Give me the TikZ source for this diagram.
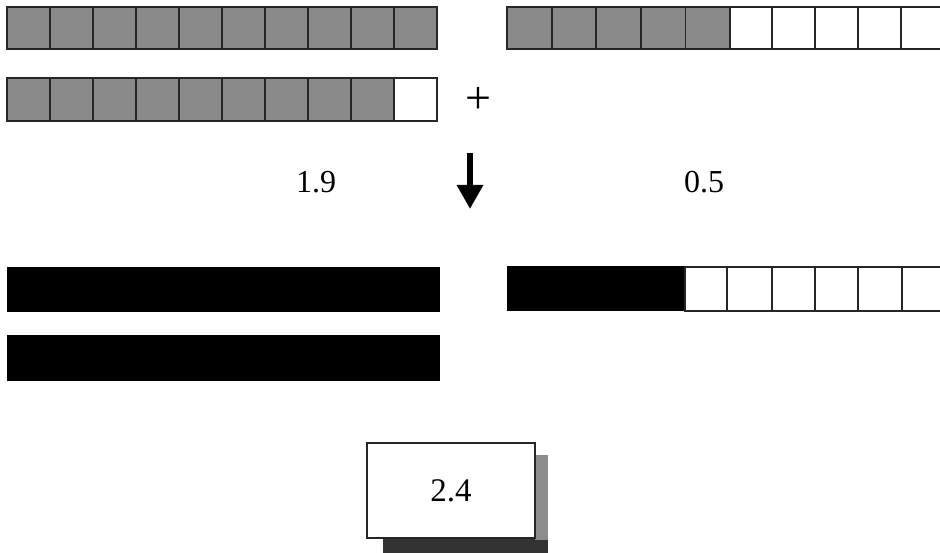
\documentclass[tikz,border=0pt]{standalone}
\usepackage{fontspec}
\setmainfont{Liberation Serif}
\usetikzlibrary{arrows.meta}
\definecolor{cellgray}{RGB}{138,138,138}
\tikzset{
  graycell/.style={fill=cellgray,draw=black!85,line width=1.8pt},
  whitecell/.style={fill=white,draw=black!85,line width=1.6pt},
  blackbar/.style={fill=black,draw=black,line width=1pt},
  numlabel/.style={font=\fontsize{32}{36}\selectfont,inner sep=0pt},
}
\begin{document}
\begin{tikzpicture}[x=1pt,y=-1pt]
\clip (0,0) rectangle (940,553);
\fill[white] (0,0) rectangle (940,553);
% row 1 left: 10 gray cells
\foreach \i in {0,...,9}{
  \draw[graycell] (7+43*\i,7) rectangle (50+43*\i,49);
}
% row 2 left: 9 gray + 1 white
\foreach \i in {0,...,8}{
  \draw[graycell] (7+43*\i,78) rectangle (50+43*\i,121);
}
\draw[whitecell] (394,78) rectangle (437,121);
% row 1 right: 5 gray + white cells
\foreach \i in {0,...,4}{
  \draw[graycell] (507+44.6*\i,7) rectangle (551.6+44.6*\i,49);
}
\foreach \a/\b in {730/772,772/815,815/858,858/901,901/944}{
  \draw[whitecell] (\a,7) rectangle (\b,49);
}
% plus
\node[font=\fontsize{46}{48}\selectfont,inner sep=0pt] (plus) at (478,101) {+};
% labels
\node[numlabel] (a) at (316,182) {1.9};
\node[numlabel] (b) at (704,182) {0.5};
% arrow
\coordinate (arrtop) at (470,153);
\coordinate (arrtip) at (470,209);
\draw[line width=6pt,-{Triangle[width=25pt,length=24pt]}] (arrtop) -- (arrtip);
% black bars left
\draw[blackbar] (7,268) rectangle (439,312);
\draw[blackbar] (7,336) rectangle (439,380);
% right bottom
\draw[blackbar] (507,267) rectangle (685,311);
\foreach \a/\b in {685/727,727/772,772/815,815/858,858/902,902/945}{
  \draw[whitecell] (\a,267) rectangle (\b,311);
}
% result box with shadow
\fill[black!80] (383,460) rectangle (548,560);
\fill[black!45] (535,455) rectangle (548,540);
\node[draw=black!85,line width=1.6pt,fill=white,minimum width=168pt,minimum height=95pt,inner sep=0pt,font=\fontsize{33}{36}\selectfont] (res) at (451,490.5) {2.4};
\end{tikzpicture}
\end{document}
